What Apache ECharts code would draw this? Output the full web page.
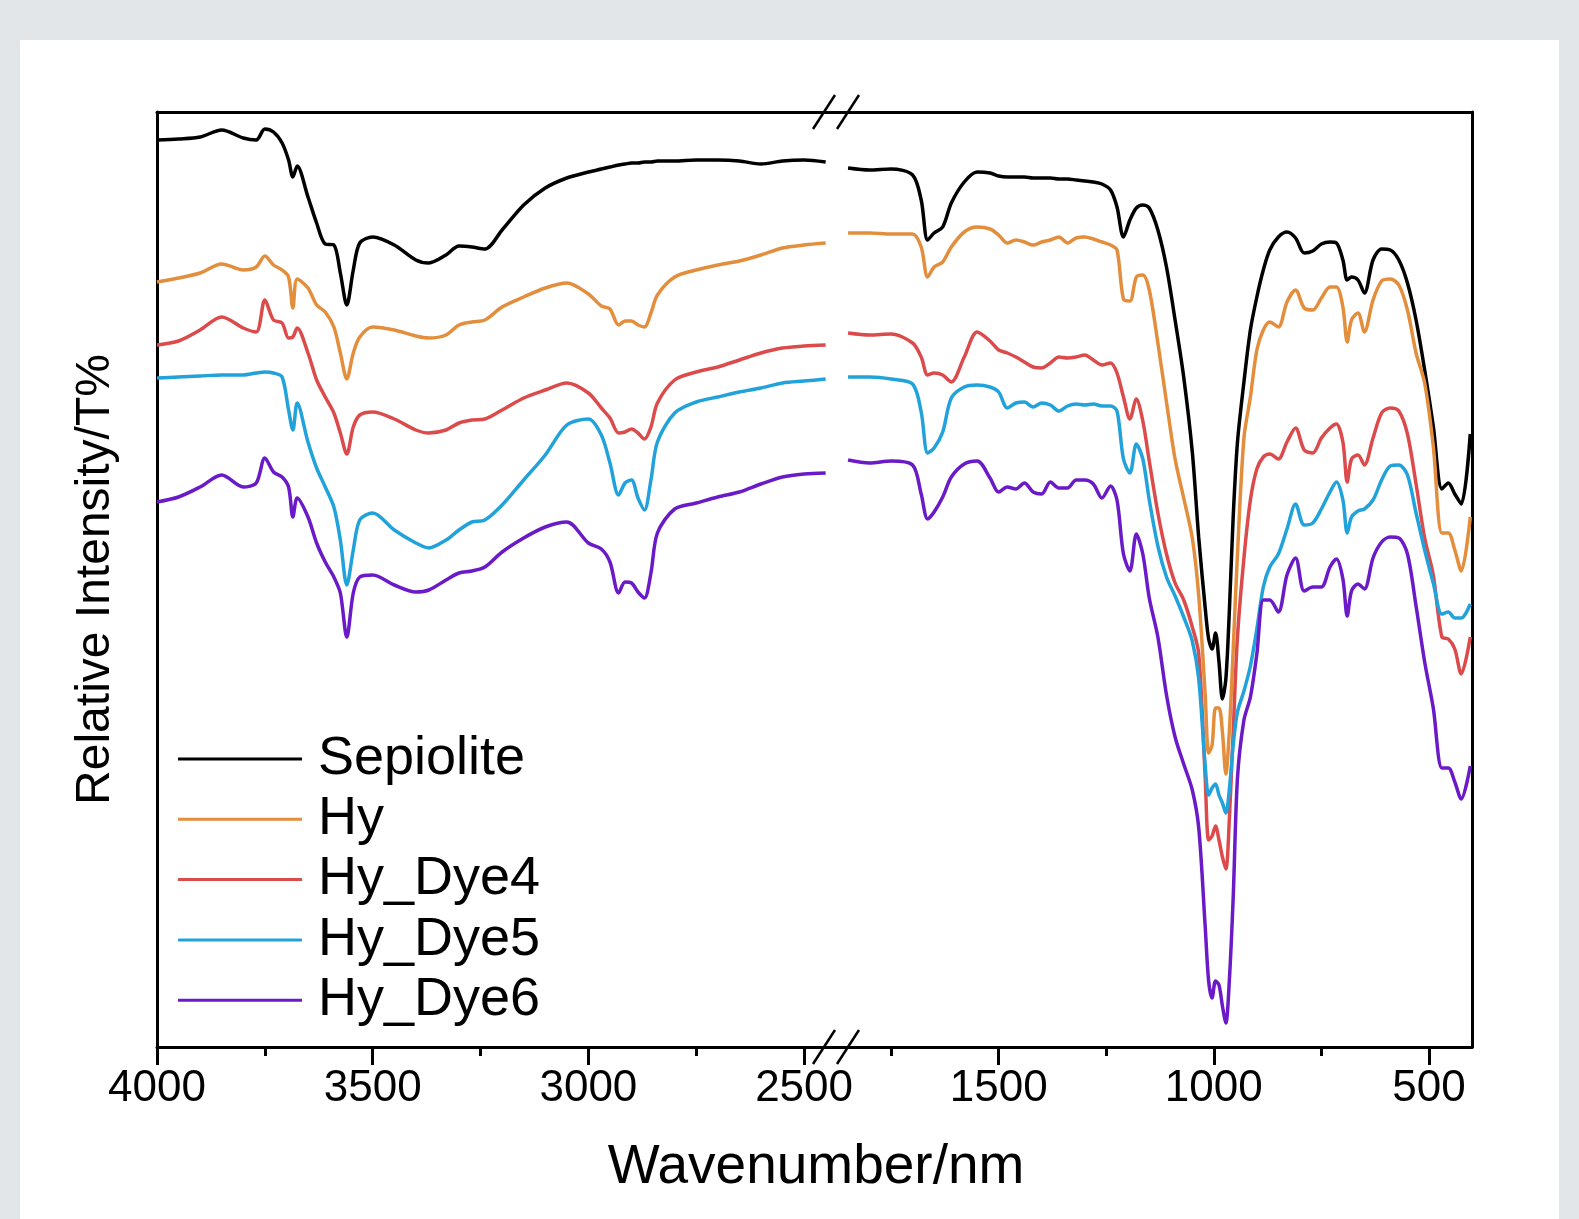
<!DOCTYPE html>
<html>
<head>
<meta charset="utf-8">
<script src="https://cdn.jsdelivr.net/npm/echarts@6/dist/echarts.min.js"></script>
<style>
html,body{margin:0;padding:0;background:#e3e6e9;}
#panel{position:absolute;left:20px;top:40px;width:1539px;height:1179px;background:#ffffff;}
#chart{position:absolute;left:0;top:0;width:1579px;height:1219px;}
</style>
</head>
<body>
<div id="panel"></div>
<div id="chart"></div>
<script>
// Wavenumber samples (cm-1) for the two segments of the broken axis
const leftWn = [4000,3950,3900,3850,3800,3770,3750,3730,3710,3695,3685,3675,3650,3630,3610,3590,3575,3560,3545,3530,3500,3450,3400,3370,3330,3300,3270,3240,3200,3150,3100,3050,3000,2970,2950,2930,2915,2900,2885,2870,2855,2840,2800,2750,2700,2650,2600,2550,2500,2450];
const rightWn = [1850,1800,1750,1700,1680,1665,1650,1630,1610,1580,1550,1520,1500,1480,1460,1440,1420,1400,1380,1360,1340,1320,1300,1280,1260,1240,1225,1210,1195,1180,1165,1150,1130,1110,1090,1070,1050,1035,1020,1012,1004,996,988,980,972,964,955,945,930,915,900,885,870,850,830,810,790,770,750,730,715,700,690,680,665,650,630,610,590,570,550,530,510,490,470,455,440,425,404];

// Relative intensity (offset, arbitrary units)
const sepioliteLeft = [90.7,90.8,91.0,91.7,90.9,90.7,91.8,91.5,90.4,88.7,87.0,88.1,85.0,82.4,80.3,80.2,77.4,74.2,77.7,80.4,81.0,80.2,78.7,78.4,79.2,80.1,80.0,79.8,81.7,84.2,85.9,86.9,87.5,87.8,88.0,88.2,88.3,88.4,88.4,88.5,88.5,88.6,88.6,88.7,88.7,88.6,88.3,88.6,88.7,88.5];
const hyLeft = [76.5,76.9,77.4,78.3,77.7,78.0,79.1,78.2,77.7,77.0,73.9,76.8,75.9,74.2,73.5,72.0,69.4,66.8,69.4,71.0,72.0,71.7,71.1,70.9,71.2,72.2,72.5,72.7,74.0,75.0,75.9,76.4,75.3,74.1,73.8,72.2,72.6,72.6,72.2,72.0,73.4,75.2,77.0,77.7,78.2,78.6,79.2,79.9,80.2,80.4];
const dye4Left = [70.2,70.6,71.7,73.0,71.9,71.5,74.7,72.7,72.4,70.9,71.0,71.9,69.4,66.7,65.0,63.4,61.4,59.3,62.0,63.2,63.5,62.8,61.7,61.4,61.7,62.4,62.7,62.8,63.7,64.9,65.7,66.4,65.4,63.9,62.9,61.4,61.5,61.8,61.4,60.8,62.0,64.4,66.7,67.5,68.0,68.7,69.4,69.9,70.1,70.2];
const dye5Left = [66.9,67.0,67.1,67.2,67.2,67.4,67.5,67.4,67.0,63.7,61.7,64.4,60.5,57.9,56.0,54.0,50.7,46.2,49.7,52.7,53.4,51.7,50.4,49.9,50.7,51.7,52.5,52.7,54.2,56.7,59.2,62.2,62.8,61.2,58.4,55.2,56.4,56.7,54.9,53.7,56.7,60.5,63.4,64.5,65.0,65.5,65.9,66.4,66.6,66.8];
const dye6Left = [54.5,55.0,56.0,57.2,56.0,56.4,58.9,57.5,57.0,56.0,53.0,54.9,53.0,50.4,48.5,47.0,45.4,41.0,45.4,47.0,47.2,46.2,45.5,45.7,46.7,47.4,47.6,48.0,49.5,50.9,52.0,52.5,50.4,49.8,48.5,45.4,46.5,46.4,45.5,44.9,47.4,51.4,53.8,54.4,55.0,55.5,56.3,57.0,57.3,57.4];

const sepioliteRight = [87.9,87.7,87.8,87.2,84.7,80.7,81.4,82.0,84.4,86.5,87.5,87.4,87.1,87.0,87.0,87.0,86.9,86.9,86.9,86.8,86.8,86.7,86.6,86.5,86.3,85.7,84.0,81.0,82.7,83.9,84.2,83.9,81.7,78.0,72.7,67.0,59.5,50.9,43.9,40.8,39.8,41.4,38.5,34.8,36.8,43.5,53.0,60.5,66.5,71.7,75.0,77.7,79.7,81.0,81.5,80.9,79.4,79.6,80.3,80.5,80.4,78.7,76.7,77.0,76.7,75.4,78.7,79.8,79.7,78.7,76.4,72.7,67.7,62.1,55.8,56.4,55.3,54.3,61.3];
const hyRight = [81.4,81.4,81.3,81.3,80.0,77.0,78.0,78.5,80.0,81.5,82.0,81.8,81.2,80.4,80.7,80.5,80.2,80.5,80.7,81.0,80.4,80.9,81.0,80.8,80.5,80.2,79.7,74.8,74.6,77.0,77.2,75.7,70.4,64.5,58.8,54.9,50.9,45.1,35.2,29.4,30.2,33.9,33.9,31.5,27.3,31.5,39.7,49.3,60.9,65.0,69.7,71.7,72.5,72.0,74.5,75.7,73.9,73.7,74.9,76.0,76.0,74.0,70.5,72.7,73.4,71.5,74.7,76.6,76.8,76.2,73.7,69.4,66.4,60.1,51.4,51.4,49.7,47.6,53.0];
const dye4Right = [71.4,71.2,71.3,70.4,69.0,67.2,67.4,67.2,66.5,69.0,71.5,70.6,69.7,69.4,69.0,68.5,68.0,67.9,68.4,69.0,68.9,69.0,69.2,68.7,68.2,68.4,67.4,65.0,62.8,64.8,62.6,58.6,53.4,49.3,46.4,44.7,42.0,39.3,26.9,20.7,21.1,22.1,20.7,19.0,17.8,22.7,31.5,41.0,48.9,54.7,57.8,59.0,59.3,58.8,60.5,61.9,59.7,59.4,60.9,61.9,62.3,60.5,56.5,58.8,59.2,58.2,60.9,63.4,63.9,63.6,61.3,56.3,50.9,47.2,41.0,40.8,39.8,37.3,41.0];
const dye5Right = [67.0,67.0,66.8,66.3,63.5,59.4,59.9,61.5,64.9,66.0,66.2,66.0,65.5,63.9,64.4,64.5,64.0,64.4,64.2,63.6,64.1,64.3,64.2,64.3,64.1,64.1,63.6,58.8,57.4,60.3,58.8,54.7,50.1,47.0,45.1,43.0,40.6,36.8,28.1,25.2,25.9,26.3,25.2,24.4,23.4,25.7,30.2,33.5,35.6,38.1,41.8,46.0,48.0,49.3,51.8,54.3,52.2,52.4,53.8,55.5,56.5,54.7,51.4,53.0,53.6,53.8,54.7,56.7,58.1,58.2,57.2,53.4,49.7,46.4,43.3,43.5,42.9,42.9,44.3];
const dye6Right = [58.7,58.4,58.6,58.2,55.3,52.8,53.5,55.0,57.0,58.3,58.6,56.9,55.5,56.0,55.8,56.4,55.5,55.3,56.5,55.9,55.9,56.7,56.7,56.3,54.9,56.1,54.7,49.3,47.6,51.3,49.3,44.9,41.0,35.2,31.0,28.3,25.7,21.9,12.0,6.6,4.9,6.6,6.2,4.1,2.4,6.6,14.9,26.9,32.7,35.0,39.3,44.7,44.7,43.5,47.2,48.9,45.6,46.0,46.0,48.0,48.8,46.8,43.1,45.6,46.3,45.8,48.9,50.5,51.0,50.9,49.3,44.1,38.5,33.9,27.9,27.9,26.5,24.8,28.1];

const seriesNames = ['Sepiolite','Hy','Hy_Dye4','Hy_Dye5','Hy_Dye6'];
const seriesColors = ['#000000','#E38E3C','#DC4B4B','#22A2DA','#6A1AC6'];
const leftValues = [sepioliteLeft, hyLeft, dye4Left, dye5Left, dye6Left];
const rightValues = [sepioliteRight, hyRight, dye4Right, dye5Right, dye6Right];

const majorTicksLeft = [4000,3500,3000,2500];
const majorTicksRight = [1500,1000,500];
const minorTicksLeft = [3750,3250,2750];
const minorTicksRight = [1750,1250,750];

const FONT = '"Liberation Sans", Arial, Helvetica, sans-serif';

function pairs(xs, ys){ return xs.map((x,i)=>[x, ys[i]]); }

const axisLineStyle = {show:true, lineStyle:{color:'#000', width:3}};
const plainNumber = v => String(Math.round(v));

function baseX(grid, min, max){
  return {type:'value', gridIndex:grid, min:min, max:max, inverse:true,
          splitLine:{show:false}};
}

const xAxes = [
  Object.assign(baseX(0, 2426, 4000), {position:'bottom', axisLine:axisLineStyle,
    axisTick:{show:true, customValues:majorTicksLeft, length:18, lineStyle:{color:'#000', width:3}},
    axisLabel:{show:true, customValues:majorTicksLeft, formatter:plainNumber, fontSize:44, color:'#000', fontFamily:FONT, margin:20}}),
  Object.assign(baseX(1, 400, 1878), {position:'bottom', axisLine:axisLineStyle,
    axisTick:{show:true, customValues:majorTicksRight, length:18, lineStyle:{color:'#000', width:3}},
    axisLabel:{show:true, customValues:majorTicksRight, formatter:plainNumber, fontSize:44, color:'#000', fontFamily:FONT, margin:20}}),
  Object.assign(baseX(0, 2426, 4000), {position:'bottom', axisLine:{show:false},
    axisTick:{show:true, customValues:minorTicksLeft, length:9, lineStyle:{color:'#000', width:3}},
    axisLabel:{show:false}}),
  Object.assign(baseX(1, 400, 1878), {position:'bottom', axisLine:{show:false},
    axisTick:{show:true, customValues:minorTicksRight, length:9, lineStyle:{color:'#000', width:3}},
    axisLabel:{show:false}}),
  Object.assign(baseX(0, 2426, 4000), {position:'top', axisLine:axisLineStyle, axisTick:{show:false}, axisLabel:{show:false}}),
  Object.assign(baseX(1, 400, 1878), {position:'top', axisLine:axisLineStyle, axisTick:{show:false}, axisLabel:{show:false}})
];

const yAxes = [
  {type:'value', gridIndex:0, min:0, max:93.5, position:'left', axisLine:axisLineStyle,
   axisTick:{show:false}, axisLabel:{show:false}, splitLine:{show:false},
   name:'Relative Intensity/T%', nameLocation:'middle', nameGap:37,
   nameTextStyle:{fontSize:48, color:'#000', fontFamily:FONT}},
  {type:'value', gridIndex:1, min:0, max:93.5, position:'right', axisLine:axisLineStyle,
   axisTick:{show:false}, axisLabel:{show:false}, splitLine:{show:false}}
];

const series = [];
seriesNames.forEach((name, k)=>{
  series.push({type:'line', name:name, xAxisIndex:0, yAxisIndex:0, data:pairs(leftWn, leftValues[k]),
    symbol:'none', smooth:0.3, color:seriesColors[k], lineStyle:{width:3.5, color:seriesColors[k]}, z:2+k});
  series.push({type:'line', name:name, xAxisIndex:1, yAxisIndex:1, data:pairs(rightWn, rightValues[k]),
    symbol:'none', smooth:0.3, color:seriesColors[k], lineStyle:{width:3.5, color:seriesColors[k]}, z:2+k});
});

function slash(cx, cy){
  return {type:'line', shape:{x1:cx-11, y1:cy+17, x2:cx+11, y2:cy-17},
          style:{stroke:'#000', lineWidth:2.5}, z:100};
}

const option = {
  backgroundColor:'transparent',
  animation:false,
  grid:[
    {left:157, top:112, width:679, height:935},
    {left:836, top:112, width:636, height:935}
  ],
  xAxis:xAxes,
  yAxis:yAxes,
  legend:{
    data:seriesNames, orient:'vertical', left:178, top:729, padding:0,
    icon:'rect', itemWidth:124, itemHeight:3, itemGap:0.3,
    textStyle:{fontSize:54, color:'#000', fontFamily:FONT, lineHeight:60, padding:[0,0,0,11]}
  },
  graphic:[
    slash(824,1047), slash(848,1047), slash(824,112), slash(848,112),
    {type:'text', x:816, y:1168, z:100,
     style:{text:'Wavenumber/nm', fill:'#000', font:'55px ' + FONT,
            align:'center', verticalAlign:'middle', textAlign:'center', textVerticalAlign:'middle'}}
  ],
  series:series
};

const chart = echarts.init(document.getElementById('chart'), null, {renderer:'canvas'});
chart.setOption(option);
</script>
</body>
</html>
